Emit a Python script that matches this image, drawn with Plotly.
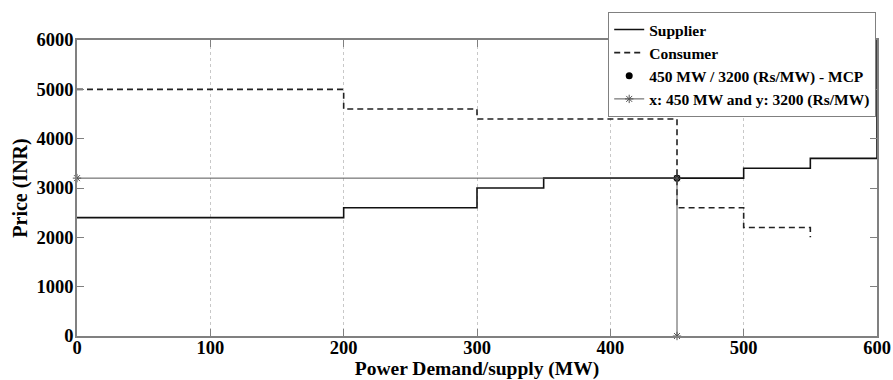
import plotly.graph_objects as go

# Data
supplier_mw = [0, 200, 300, 350, 500, 550, 600]
supplier_price = [2400, 2600, 3000, 3200, 3400, 3600, 6000]

consumer_mw = [0, 200, 300, 450, 500, 550]
consumer_price = [5000, 4600, 4400, 2600, 2200, 2000]

mcp_mw = [450]
mcp_price = [3200]

guide_mw = [0, 450, 450]
guide_price = [3200, 3200, 0]

x_ticks = [0, 100, 200, 300, 400, 500, 600]
y_ticks = [0, 1000, 2000, 3000, 4000, 5000, 6000]

FONT = "Liberation Serif, Times New Roman, serif"

fig = go.Figure()

fig.add_trace(go.Scatter(
    x=supplier_mw, y=supplier_price, mode="lines", name="Supplier",
    line=dict(color="#111111", width=1.6, shape="hv"),
))
fig.add_trace(go.Scatter(
    x=consumer_mw, y=consumer_price, mode="lines", name="Consumer",
    line=dict(color="#222222", width=1.6, dash="6px,4px", shape="hv"),
))
fig.add_trace(go.Scatter(
    x=mcp_mw, y=mcp_price, mode="markers", name="450 MW / 3200 (Rs/MW) - MCP",
    marker=dict(color="black", size=7, symbol="circle"),
    cliponaxis=False,
))
fig.add_trace(go.Scatter(
    x=guide_mw, y=guide_price, mode="lines+markers",
    name="x: 450 MW and y: 3200 (Rs/MW)",
    line=dict(color="#555555", width=1),
    marker=dict(color="#555555", size=7, symbol="asterisk-open",
                line=dict(color="#555555", width=1)),
    cliponaxis=False,
))

axis_common = dict(
    showline=True, linecolor="#808080", linewidth=1.5, mirror="ticks",
    ticks="inside", ticklen=7, tickcolor="#808080", zeroline=False,
    automargin=False,
    tickfont=dict(family=FONT, size=18.5, color="black", weight="bold"),
)

fig.update_layout(
    width=893, height=380,
    margin=dict(l=77, r=16, t=40, b=44),
    paper_bgcolor="white", plot_bgcolor="white",
    font=dict(family=FONT, color="black", weight="bold"),
    xaxis=dict(
        range=[0, 600], tickvals=x_ticks, ticktext=[str(v) for v in x_ticks],
        showgrid=True, gridcolor="#c8c8c8", griddash="dot", gridwidth=1,
        ticklabelstandoff=-6,
        title=dict(text="Power Demand/supply (MW)", standoff=3,
                   font=dict(family=FONT, size=19.5, color="black", weight="bold")),
        **axis_common,
    ),
    yaxis=dict(
        range=[0, 6000], tickvals=y_ticks, ticktext=[str(v) for v in y_ticks],
        showgrid=False, ticklabelstandoff=-2,
        title=dict(text="Price (INR)", standoff=4,
                   font=dict(family=FONT, size=20, color="black", weight="bold")),
        **axis_common,
    ),
    legend=dict(
        x=0.664, y=1.095, xanchor="left", yanchor="top",
        bgcolor="white", bordercolor="#808080", borderwidth=1,
        font=dict(family=FONT, size=15.5, color="black", weight="bold"),
        tracegroupgap=0, itemwidth=30,
    ),
    showlegend=True,
)

fig.write_html(
    "out.html",
    config={"displayModeBar": False},
    post_script="document.body.style.margin='0';document.body.style.overflow='hidden';",
)
